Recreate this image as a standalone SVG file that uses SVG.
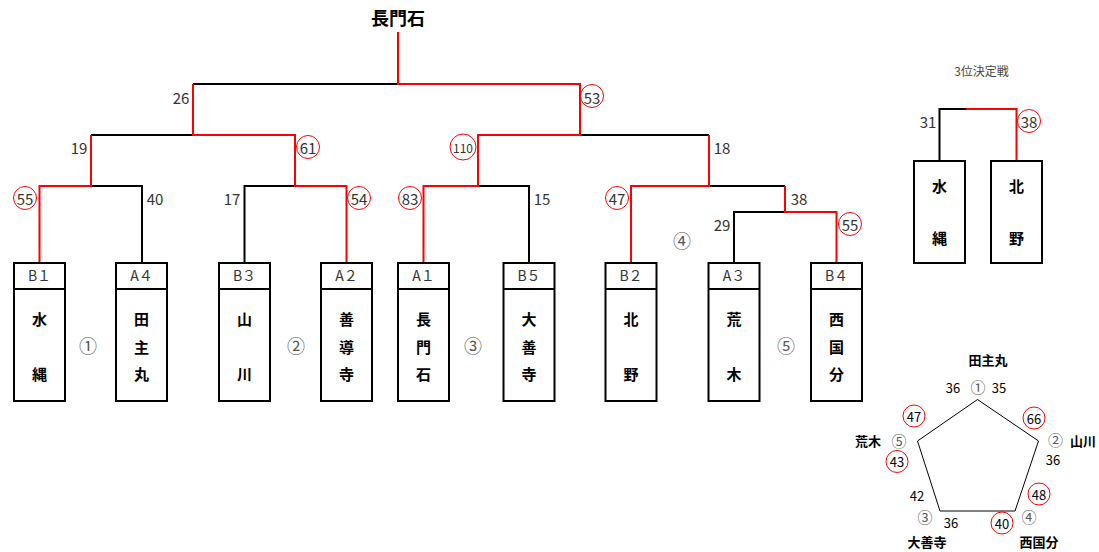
<svg xmlns="http://www.w3.org/2000/svg" width="1099" height="552" viewBox="0 0 1099 552">
<style>
text{font-family:"Noto Sans CJK JP","Noto Sans",sans-serif;dominant-baseline:central;text-anchor:middle}
.box{fill:#fff;stroke:#000;stroke-width:2}
.hd{font-size:14px;fill:#333}
.nm{font-size:15px;font-weight:bold;fill:#000}
.sc{font-size:15px;fill:#333}
.cn{font-size:18px;fill:#555}
.blk{fill:none;stroke:#000;stroke-width:2}
.red{fill:none;stroke:#ff0000;stroke-width:2}
.win{fill:none;stroke:#ff0000;stroke-width:1}
.pn{font-size:13px;fill:#000}
.pl{font-size:13px;font-weight:bold;fill:#000}
.pc{font-size:15px;fill:#555}
</style>
<rect width="1099" height="552" fill="#fff"/>
<text id="champion" x="398" y="17" style="font-size:18px;font-weight:bold">長門石</text>

<g id="connectors">
<path class="blk" d="M193,84 H398"/>
<path class="blk" d="M91,135 H193"/>
<path class="blk" d="M91,186 H142 V263"/>
<path class="blk" d="M244.5,263 V186 H295"/>
<path class="blk" d="M478,186 H529 V263"/>
<path class="blk" d="M580,135 H709"/>
<path class="blk" d="M709,186 H785"/>
<path class="blk" d="M734,263 V212 H785"/>
<path class="blk" d="M939.5,161 V109 H966"/>
<path class="red" d="M398,32 V84 H580 V135 H478 V186 H423.5 V263"/>
<path class="red" d="M193,84 V135 H295 V186 H346.5 V263"/>
<path class="red" d="M39.5,263 V186 H91 V135"/>
<path class="red" d="M631,263 V186 H709 V135"/>
<path class="red" d="M785,186 V212 H836.5 V263"/>
<path class="red" d="M966,109 H1016.5 V161"/>
</g>

<g id="scores">
<text class="sc" x="181" y="97">26</text>
<circle class="win" cx="592" cy="96" r="11.5"/><text class="sc" x="592" y="97">53</text>
<text class="sc" x="79" y="147">19</text>
<circle class="win" cx="308" cy="147" r="11.5"/><text class="sc" x="308" y="147">61</text>
<circle class="win" cx="463" cy="147" r="13"/><text class="sc" x="463" y="147" style="font-size:12px">110</text>
<text class="sc" x="722" y="147">18</text>
<circle class="win" cx="25" cy="198" r="11.5"/><text class="sc" x="25" y="198">55</text>
<text class="sc" x="155" y="198">40</text>
<text class="sc" x="232" y="198">17</text>
<circle class="win" cx="359" cy="198" r="11.5"/><text class="sc" x="359" y="198">54</text>
<circle class="win" cx="410" cy="198" r="11.5"/><text class="sc" x="410" y="198">83</text>
<text class="sc" x="542" y="198">15</text>
<circle class="win" cx="617" cy="198" r="11.5"/><text class="sc" x="617" y="198">47</text>
<text class="sc" x="799" y="198">38</text>
<text class="sc" x="722" y="224">29</text>
<circle class="win" cx="850" cy="224" r="11.5"/><text class="sc" x="850" y="224">55</text>
<text class="sc" x="928" y="121">31</text>
<circle class="win" cx="1029" cy="121" r="11.5"/><text class="sc" x="1029" y="121">38</text>
</g>

<g id="pools">
<text class="cn" x="88" y="345">①</text>
<text class="cn" x="296" y="345">②</text>
<text class="cn" x="473" y="345">③</text>
<text class="cn" x="682" y="240">④</text>
<text class="cn" x="786" y="345">⑤</text>
</g>

<g id="team-B1"><rect class="box" x="14" y="263" width="51" height="138"/><line class="blk" x1="14" y1="289" x2="65" y2="289"/><text class="hd" x="39.5" y="275">B１</text><text class="nm" x="39.5" y="318">水</text><text class="nm" x="39.5" y="373">縄</text></g>
<g id="team-A4"><rect class="box" x="116" y="263" width="51" height="138"/><line class="blk" x1="116" y1="289" x2="167" y2="289"/><text class="hd" x="141.5" y="275">A４</text><text class="nm" x="141.5" y="318">田</text><text class="nm" x="141.5" y="346">主</text><text class="nm" x="141.5" y="373">丸</text></g>
<g id="team-B3"><rect class="box" x="219" y="263" width="51" height="138"/><line class="blk" x1="219" y1="289" x2="270" y2="289"/><text class="hd" x="244.5" y="275">B３</text><text class="nm" x="244.5" y="318">山</text><text class="nm" x="244.5" y="373">川</text></g>
<g id="team-A2"><rect class="box" x="321" y="263" width="51" height="138"/><line class="blk" x1="321" y1="289" x2="372" y2="289"/><text class="hd" x="346.5" y="275">A２</text><text class="nm" x="346.5" y="318">善</text><text class="nm" x="346.5" y="346">導</text><text class="nm" x="346.5" y="373">寺</text></g>
<g id="team-A1"><rect class="box" x="398" y="263" width="51" height="138"/><line class="blk" x1="398" y1="289" x2="449" y2="289"/><text class="hd" x="423.5" y="275">A１</text><text class="nm" x="423.5" y="318">長</text><text class="nm" x="423.5" y="346">門</text><text class="nm" x="423.5" y="373">石</text></g>
<g id="team-B5"><rect class="box" x="503.5" y="263" width="51" height="138"/><line class="blk" x1="503.5" y1="289" x2="554.5" y2="289"/><text class="hd" x="529" y="275">B５</text><text class="nm" x="529" y="318">大</text><text class="nm" x="529" y="346">善</text><text class="nm" x="529" y="373">寺</text></g>
<g id="team-B2"><rect class="box" x="605.5" y="263" width="51" height="138"/><line class="blk" x1="605.5" y1="289" x2="656.5" y2="289"/><text class="hd" x="631" y="275">B２</text><text class="nm" x="631" y="318">北</text><text class="nm" x="631" y="373">野</text></g>
<g id="team-A3"><rect class="box" x="708.5" y="263" width="51" height="138"/><line class="blk" x1="708.5" y1="289" x2="759.5" y2="289"/><text class="hd" x="734" y="275">A３</text><text class="nm" x="734" y="318">荒</text><text class="nm" x="734" y="373">木</text></g>
<g id="team-B4"><rect class="box" x="811" y="263" width="51" height="138"/><line class="blk" x1="811" y1="289" x2="862" y2="289"/><text class="hd" x="836.5" y="275">B４</text><text class="nm" x="836.5" y="318">西</text><text class="nm" x="836.5" y="346">国</text><text class="nm" x="836.5" y="373">分</text></g>

<g id="third-place">
<text x="981.5" y="70" style="font-size:12px;fill:#444">3位決定戦</text>
<g id="third-mizunawa"><rect class="box" x="914" y="161" width="51" height="102"/><text class="nm" x="939.5" y="185">水</text><text class="nm" x="939.5" y="237">縄</text></g>
<g id="third-kitano"><rect class="box" x="991" y="161" width="51" height="102"/><text class="nm" x="1016.5" y="185">北</text><text class="nm" x="1016.5" y="237">野</text></g>
</g>

<g id="pool-pentagon">
<polygon points="977.5,399.5 1038.5,441 1015,511 940,511 917.5,441" fill="none" stroke="#000" stroke-width="1"/>
<text class="pl" x="988" y="359">田主丸</text>
<text class="pn" x="953" y="387.5">36</text>
<text class="pc" x="978" y="386">①</text>
<text class="pn" x="999" y="387.5">35</text>
<circle class="win" cx="914" cy="416" r="11"/><text class="pn" x="914" y="416">47</text>
<circle class="win" cx="1034" cy="418" r="11"/><text class="pn" x="1034" y="418">66</text>
<text class="pl" x="868" y="440">荒木</text>
<text class="pc" x="899" y="440">⑤</text>
<text class="pc" x="1055.5" y="439">②</text>
<text class="pl" x="1083" y="440">山川</text>
<circle class="win" cx="897" cy="461.5" r="11"/><text class="pn" x="897" y="461.5">43</text>
<text class="pn" x="1053" y="459">36</text>
<circle class="win" cx="1039" cy="494" r="11"/><text class="pn" x="1039" y="494">48</text>
<text class="pn" x="917" y="495">42</text>
<text class="pc" x="925" y="516.5">③</text>
<text class="pn" x="951" y="522.5">36</text>
<circle class="win" cx="1002" cy="523" r="11"/><text class="pn" x="1002" y="523">40</text>
<text class="pc" x="1029" y="516">④</text>
<text class="pl" x="927" y="541.5">大善寺</text>
<text class="pl" x="1039" y="541.5">西国分</text>
</g>
</svg>
